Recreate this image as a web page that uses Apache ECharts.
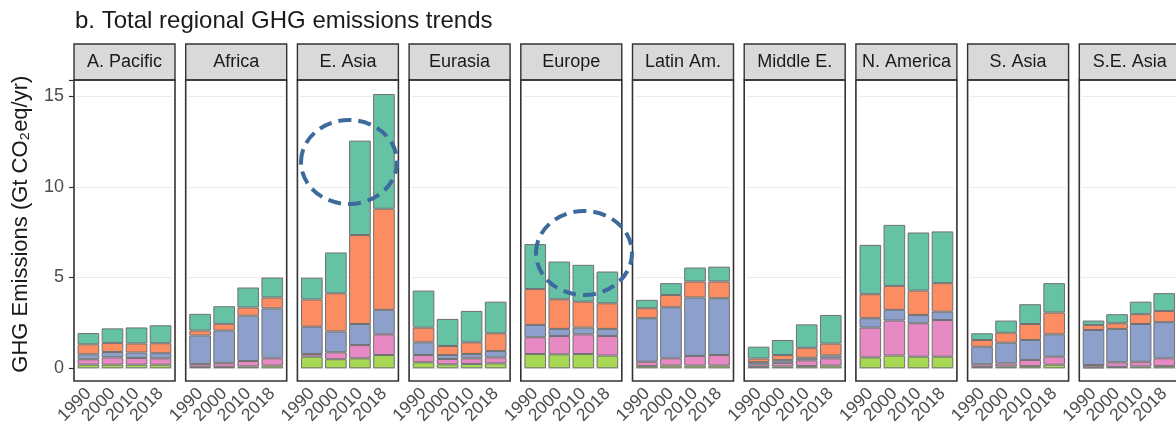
<!DOCTYPE html>
<html style="height: 100%">
<head>
    <meta charset="utf-8">
    <script src="https://cdn.jsdelivr.net/npm/echarts@6/dist/echarts.min.js"></script>
</head>
<body style="height: 100%; margin: 0; background: #fff;">
<div id="container" style="width: 1176px; height: 431px"></div>

<script type="text/javascript">
    var regions = ['A. Pacific', 'Africa', 'E. Asia', 'Eurasia', 'Europe', 'Latin Am.', 'Middle E.', 'N. America', 'S. Asia', 'S.E. Asia'];
    var years = ['1990', '2000', '2010', '2018'];
    var yTicks = [0, 5, 10, 15];

    // one row per region, one value per year (Gt CO2eq/yr), stacked bottom -> top
    var greenLayer = [[0.2, 0.2, 0.2, 0.2], [0.08, 0.08, 0.1, 0.15], [0.64, 0.5, 0.55, 0.73], [0.33, 0.22, 0.24, 0.27], [0.79, 0.77, 0.79, 0.7],
        [0.12, 0.15, 0.15, 0.15], [0.08, 0.1, 0.12, 0.15], [0.6, 0.7, 0.64, 0.64], [0.08, 0.1, 0.12, 0.2], [0.05, 0.08, 0.1, 0.12]];
    var pinkLayer = [[0.3, 0.4, 0.37, 0.35], [0.15, 0.2, 0.3, 0.4], [0.15, 0.38, 0.73, 1.14], [0.4, 0.29, 0.31, 0.33], [0.92, 1.01, 1.08, 1.08],
        [0.24, 0.4, 0.53, 0.58], [0.14, 0.2, 0.32, 0.4], [1.64, 1.93, 1.84, 2.02], [0.14, 0.17, 0.34, 0.44], [0.13, 0.25, 0.26, 0.43]];
    var blueLayer = [[0.27, 0.3, 0.3, 0.28], [1.58, 1.8, 2.5, 2.75], [1.5, 1.15, 1.16, 1.35], [0.7, 0.22, 0.24, 0.35], [0.68, 0.39, 0.37, 0.39],
        [2.4, 2.81, 3.22, 3.13], [0.12, 0.15, 0.14, 0.16], [0.52, 0.59, 0.46, 0.46], [0.97, 1.14, 1.1, 1.23], [1.93, 1.84, 2.08, 1.99]];
    var orangeLayer = [[0.55, 0.5, 0.5, 0.55], [0.27, 0.37, 0.45, 0.6], [1.5, 2.1, 4.9, 5.57], [0.81, 0.5, 0.64, 0.98], [1.98, 1.63, 1.43, 1.41],
        [0.55, 0.68, 0.88, 0.92], [0.2, 0.28, 0.55, 0.65], [1.32, 1.32, 1.34, 1.57], [0.37, 0.55, 0.88, 1.2], [0.28, 0.31, 0.54, 0.62]];
    var tealLayer = [[0.62, 0.8, 0.88, 0.99], [0.92, 0.97, 1.1, 1.1], [1.2, 2.25, 5.2, 6.32], [2.04, 1.49, 1.73, 1.74], [2.47, 2.08, 2.03, 1.75],
        [0.46, 0.65, 0.77, 0.82], [0.65, 0.83, 1.29, 1.58], [2.72, 3.36, 3.2, 2.85], [0.37, 0.67, 1.09, 1.62], [0.24, 0.5, 0.69, 0.98]];

    var layers = [
        {name: 'green', data: greenLayer, color: '#a6d854'},
        {name: 'pink', data: pinkLayer, color: '#e78ac3'},
        {name: 'blue', data: blueLayer, color: '#8da0cb'},
        {name: 'orange', data: orangeLayer, color: '#fc8d62'},
        {name: 'teal', data: tealLayer, color: '#66c2a5'}
    ];

    var font = "'Liberation Sans', Arial, sans-serif";
    var panelX0 = 74, panelStep = 111.7, panelW = 101;
    var stripTop = 44, panelTop = 80, panelBottom = 381, zeroY = 368.3;
    var unit = panelW / 4.2;   // ggplot discrete expand of 0.6 on each side

    var myChart = echarts.init(document.getElementById('container'));

    var grids = [], xAxes = [], yAxes = [], series = [], graphics = [];

    for (var i = 0; i < regions.length; i++) {
        var px = panelX0 + panelStep * i;

        grids.push({left: px + 0.1 * unit, width: 4 * unit, top: panelTop, height: zeroY - panelTop});

        xAxes.push({
            type: 'category', gridIndex: i, data: years, offset: panelBottom - zeroY,
            axisLine: {show: false},
            axisTick: {alignWithLabel: true, length: 5, lineStyle: {color: '#333', width: 1.2}},
            axisLabel: {interval: 0, rotate: 45, margin: 10, fontSize: 17.5, color: '#4d4d4d', fontFamily: font}
        });

        yAxes.push({
            type: 'value', gridIndex: i, min: 0, max: 15.88, interval: 5,
            offset: i === 0 ? 0.1 * unit : 0,
            name: i === 0 ? 'GHG Emissions (Gt CO₂eq/yr)' : '',
            nameLocation: 'middle', nameGap: 42,
            nameTextStyle: {fontSize: 22, color: '#1a1a1a', fontFamily: font},
            axisLine: {show: false},
            axisTick: {show: i === 0, length: 5, lineStyle: {color: '#333', width: 1.2}},
            axisLabel: {show: i === 0, fontSize: 18, color: '#4d4d4d', margin: 10, fontFamily: font,
                formatter: function (v) { return yTicks.indexOf(v) >= 0 ? String(v) : ''; }},
            splitLine: {show: true, lineStyle: {color: '#ebebeb', width: 1}}
        });

        layers.forEach(function (l) {
            series.push({
                name: l.name, type: 'bar', stack: 'p' + i,
                xAxisIndex: i, yAxisIndex: i,
                barWidth: 0.9 * unit,
                data: l.data[i],
                itemStyle: {color: l.color, borderColor: '#707070', borderWidth: 1}
            });
        });

        graphics.push({
            type: 'rect', z: 10,
            shape: {x: px, y: stripTop, width: panelW, height: panelTop - stripTop},
            style: {fill: '#d9d9d9', stroke: '#333', lineWidth: 1.4}
        });
        graphics.push({
            type: 'rect', z: 10,
            shape: {x: px, y: panelTop, width: panelW, height: panelBottom - panelTop},
            style: {fill: 'none', stroke: '#333', lineWidth: 1.6}
        });
        graphics.push({
            type: 'text', z: 11, x: px + panelW / 2, y: (stripTop + panelTop) / 2,
            style: {text: regions[i], fill: '#1a1a1a', font: '18px ' + font, textAlign: 'center', textVerticalAlign: 'middle'}
        });
    }

    // dashed highlight circles drawn over E. Asia and Europe
    [{cx: 349, cy: 162}, {cx: 584, cy: 253}].forEach(function (c) {
        graphics.push({
            type: 'ellipse', z: 20,
            shape: {cx: c.cx, cy: c.cy, rx: 48, ry: 42},
            style: {fill: 'none', stroke: '#3d6a9c', lineWidth: 4, lineDash: [13, 7]}
        });
    });

    var option = {
        animation: false,
        backgroundColor: '#fff',
        title: {
            text: 'b. Total regional GHG emissions trends',
            left: 70, top: 4,
            textStyle: {fontSize: 24, fontWeight: 'normal', color: '#1a1a1a', fontFamily: font}
        },
        grid: grids,
        xAxis: xAxes,
        yAxis: yAxes,
        series: series,
        graphic: graphics
    };

    myChart.setOption(option);
</script>
</body>
</html>
